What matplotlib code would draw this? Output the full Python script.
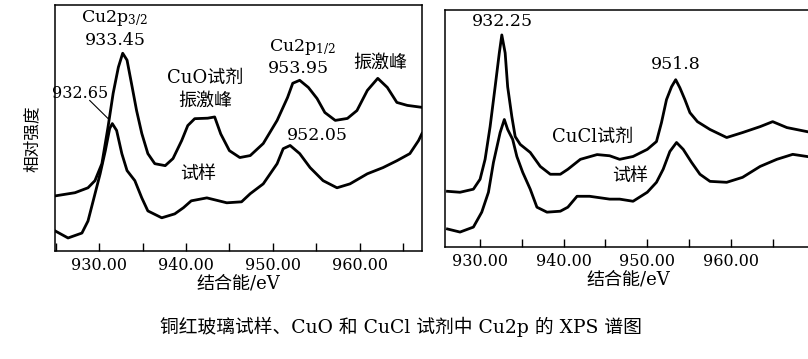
import matplotlib
matplotlib.use('Agg')
import matplotlib.pyplot as plt
from matplotlib.ticker import MultipleLocator

plt.rcParams['font.family'] = ['DejaVu Serif', 'Noto Sans CJK SC']
plt.rcParams['mathtext.fontset'] = 'dejavuserif'

# left panel: CuO reagent (upper) and glass sample (lower)
cuo_ev = [924.9, 927.2, 928.7, 929.5, 930.3, 931.0, 931.6, 932.2, 932.7, 933.2, 933.8, 934.3,
          934.9, 935.6, 936.4, 937.6, 938.5, 939.5, 940.2, 941.0, 942.5, 943.3, 944.0, 945.0,
          946.2, 947.4, 948.9, 950.5, 951.7, 952.3, 953.1, 954.1, 955.1, 956.0, 957.2, 958.6,
          959.7, 960.9, 962.1, 963.2, 964.3, 965.5, 967.2]
cuo_int = [22.4, 23.7, 25.7, 28.6, 35.5, 50.2, 64.1, 74.7, 80.4, 77.6, 66.5, 57.1,
           47.8, 39.6, 35.5, 34.7, 37.6, 44.9, 51, 53.8, 54, 54.5, 47.6, 40.8,
           38, 38.8, 43.7, 53.1, 62.4, 68.2, 69.4, 66.5, 62, 56.3, 53.1, 53.9,
           57.1, 65.3, 70.2, 66.5, 60.4, 59.2, 58.4]
s1_ev = [924.9, 926.4, 928.0, 928.7, 929.3, 930.1, 930.7, 931.2, 931.5, 932.0, 932.6, 933.2,
         934.1, 934.9, 935.6, 937.2, 938.7, 939.7, 940.6, 942.4, 944.7, 946.4, 947.4, 948.9,
         950.5, 951.2, 952.0, 953.1, 954.3, 955.8, 957.4, 958.9, 960.9, 962.7, 964.3, 965.8,
         966.8, 967.2]
s1_int = [8.2, 5.3, 7.3, 12.2, 20.4, 31.4, 40.8, 49.8, 51.8, 49, 39.6, 32.7,
          28.6, 21.6, 16.3, 13.5, 15.1, 17.6, 20.4, 21.6, 19.6, 20, 23.3, 27.3,
          35.5, 41.6, 42.9, 39.6, 33.9, 28.6, 25.7, 27.3, 31.4, 33.9, 36.7, 39.6,
          44.9, 47.8]

# right panel: CuCl reagent (upper) and glass sample (lower)
cucl_ev = [926.1, 927.6, 929.2, 930.0, 930.6, 931.2, 931.8, 932.3, 932.6, 933.0, 933.3, 933.8,
           934.2, 934.8, 936.0, 937.2, 938.4, 939.6, 940.5, 942.0, 944.0, 945.5, 946.7, 948.3,
           950.0, 951.1, 951.7, 952.3, 952.9, 953.4, 953.9, 954.5, 955.1, 956.0, 957.5, 959.5,
           961.4, 963.5, 965.0, 966.7, 969.1]
cucl_int = [23.5, 23.1, 24.4, 28.6, 37, 50.8, 67.6, 81.9, 89.5, 81.9, 67.6, 55,
            46.6, 43.3, 39.9, 34, 30.7, 30.7, 32.8, 37, 39, 38.5, 37, 38.2,
            41.2, 44.5, 52.5, 62.2, 67.6, 70.6, 67.2, 62.2, 56.7, 52.9, 49.6, 46.2,
            48.3, 50.8, 52.9, 50.4, 48.7]
s2_ev = [926.1, 927.6, 929.2, 930.2, 931.0, 931.6, 932.4, 932.9, 933.3, 933.9, 934.4, 935.1,
         936.0, 936.8, 938.0, 939.6, 940.5, 941.6, 943.1, 945.5, 946.7, 948.3, 950.0, 951.1,
         951.9, 952.7, 953.5, 954.3, 955.3, 956.3, 957.5, 959.5, 961.4, 963.5, 965.5, 967.4,
         969.1]
s2_int = [7.6, 6.3, 8.4, 14.7, 23.1, 35.7, 48.3, 53.8, 49.6, 45.4, 38.2, 31.5,
          24.4, 16.8, 14.7, 15.1, 16.8, 21.4, 21.4, 20.2, 20.2, 19.3, 23.1, 27.3,
          32.8, 40.3, 44.1, 41.2, 35.7, 30.7, 27.7, 27.3, 29.4, 34, 37, 39.1,
          38.2]

tick_vals = [930, 940, 950, 960]
tick_labels = ['930.00', '940.00', '950.00', '960.00']

fig = plt.figure(figsize=(8.08, 3.59), dpi=100)
ax1 = fig.add_axes([0.0681, 0.3008, 0.4542, 0.6852])
ax2 = fig.add_axes([0.5507, 0.312, 0.4542, 0.660])

ax1.plot(cuo_ev, cuo_int, color='black', lw=2.0)
ax1.plot(s1_ev, s1_int, color='black', lw=2.0)
ax2.plot(cucl_ev, cucl_int, color='black', lw=2.0)
ax2.plot(s2_ev, s2_int, color='black', lw=2.0)

ax1.set_xlim(924.9, 967.2)
ax2.set_xlim(925.8, 969.7)
for ax in (ax1, ax2):
    ax.set_ylim(0, 100)
    ax.set_yticks([])
    ax.set_xticks(tick_vals)
    ax.set_xticklabels(tick_labels)
    ax.xaxis.set_minor_locator(MultipleLocator(5))
    ax.tick_params(axis='x', which='both', direction='in', length=6, width=1, pad=4, labelsize=11.5)
    for sp in ax.spines.values():
        sp.set_linewidth(1.1)
    ax.set_xlabel('结合能/eV', fontsize=13, labelpad=1)

ax1.text(931.8, 94.7, 'Cu2p$_{3/2}$', fontsize=12.5, ha='center', va='center')
ax1.text(931.8, 85.7, '933.45', fontsize=12.5, ha='center', va='center')
ax1.text(927.8, 64.1, '932.65', fontsize=11.5, ha='center', va='center')
ax1.plot([928.9, 931.0], [61.2, 53.9], color='black', lw=0.8)
ax1.text(942.2, 70.2, 'CuO试剂', fontsize=13, ha='center', va='center')
ax1.text(942.2, 61.2, '振激峰', fontsize=13, ha='center', va='center')
ax1.text(953.4, 82.9, 'Cu2p$_{1/2}$', fontsize=12.5, ha='center', va='center')
ax1.text(952.9, 74.3, '953.95', fontsize=12.5, ha='center', va='center')
ax1.text(962.4, 76.7, '振激峰', fontsize=13, ha='center', va='center')
ax1.text(955.1, 46.9, '952.05', fontsize=12.5, ha='center', va='center')
ax1.text(941.4, 31.4, '试样', fontsize=13, ha='center', va='center')

ax2.text(932.7, 95, '932.25', fontsize=12.5, ha='center', va='center')
ax2.text(953.4, 76.9, '951.8', fontsize=12.5, ha='center', va='center')
ax2.text(943.4, 46.6, 'CuCl试剂', fontsize=13, ha='center', va='center')
ax2.text(947.9, 29.8, '试样', fontsize=13, ha='center', va='center')

fig.text(32 / 808, 1 - 139 / 359, '相对强度', rotation=90, fontsize=12, ha='center', va='center')
fig.text(401 / 808, 1 - 327 / 359, '铜红玻璃试样、CuO 和 CuCl 试剂中 Cu2p 的 XPS 谱图',
         fontsize=13.5, ha='center', va='center')

fig.savefig('out.png', dpi=100)
